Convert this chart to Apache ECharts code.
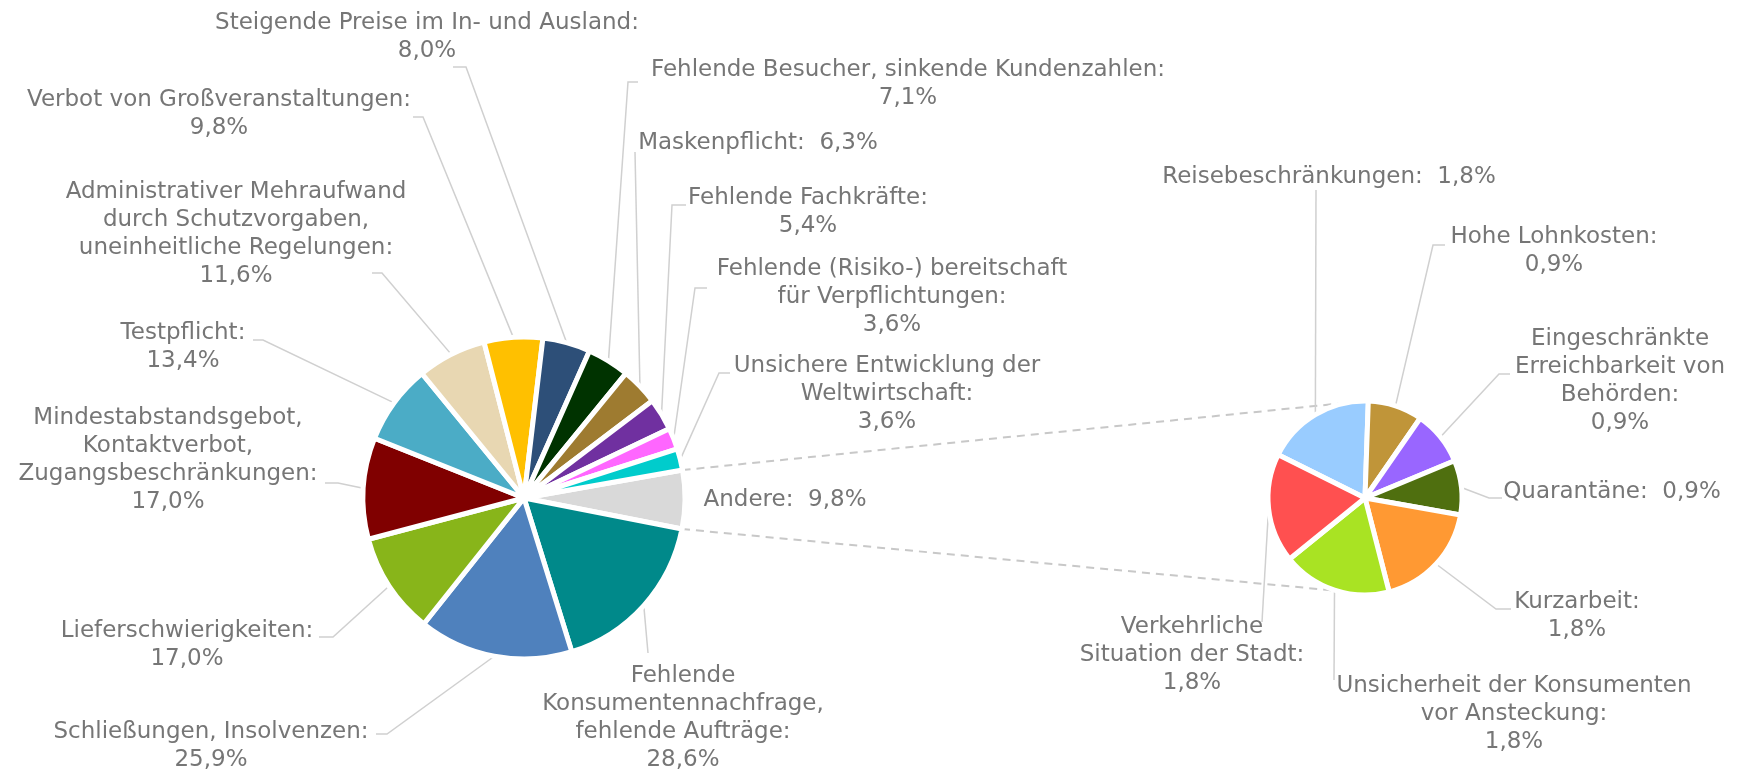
<!DOCTYPE html>
<html>
<head>
<meta charset="utf-8">
<script src="https://cdn.jsdelivr.net/npm/echarts@6/dist/echarts.min.js"></script>
<style>
  html, body { margin: 0; padding: 0; background: #fff; }
  #chart { width: 1740px; height: 771px; }
</style>
</head>
<body>
<div id="chart"></div>
<script>
// Hauptkreis (Reihenfolge im Uhrzeigersinn ab "Andere")
const mainNames = [
  'Andere',
  'Fehlende\nKonsumentennachfrage,\nfehlende Aufträge',
  'Schließungen, Insolvenzen',
  'Lieferschwierigkeiten',
  'Mindestabstandsgebot,\nKontaktverbot,\nZugangsbeschränkungen',
  'Testpflicht',
  'Administrativer Mehraufwand\ndurch Schutzvorgaben,\nuneinheitliche Regelungen',
  'Verbot von Großveranstaltungen',
  'Steigende Preise im In- und Ausland',
  'Fehlende Besucher, sinkende Kundenzahlen',
  'Maskenpflicht',
  'Fehlende Fachkräfte',
  'Fehlende (Risiko-) bereitschaft\nfür Verpflichtungen',
  'Unsichere Entwicklung der\nWeltwirtschaft'
];
const mainValues = [9.8, 28.6, 25.9, 17.0, 17.0, 13.4, 11.6, 9.8, 8.0, 7.1, 6.3, 5.4, 3.6, 3.6];
const mainColors = ['#d9d9d9', '#00898a', '#4f81bd', '#88b51a', '#800000', '#4bacc6', '#e8d7b2',
  '#ffc000', '#2d4f78', '#003300', '#9e7b30', '#7030a0', '#ff66ff', '#00cccc'];
const mainInline = [0, 10]; // Wert in derselben Zeile

// Zweiter Kreis ("Andere" aufgeschlüsselt)
const otherNames = [
  'Reisebeschränkungen',
  'Hohe Lohnkosten',
  'Eingeschränkte\nErreichbarkeit von\nBehörden',
  'Quarantäne',
  'Kurzarbeit',
  'Unsicherheit der Konsumenten\nvor Ansteckung',
  'Verkehrliche\nSituation der Stadt'
];
const otherValues = [1.8, 0.9, 0.9, 0.9, 1.8, 1.8, 1.8];
const otherColors = ['#99ccff', '#c09539', '#9966ff', '#4f6f0f', '#ff9933', '#a9e323', '#ff5050'];
const otherInline = [0, 3];

// Beschriftungspositionen: [x, y, Knick x, Knick y, Ende x, Ende y]
const mainLabelPos = [
  [785, 500], [683, 718, 648, 653, 648, 653], [211, 746, 387, 734, 376, 734],
  [187, 645, 333, 637, 319, 637], [168, 460, 338, 483, 325, 483], [183, 347, 263, 340, 253, 340],
  [236, 234, 382, 273, 372, 273], [219, 114, 423, 117, 413, 117], [427, 37, 466, 67, 453, 67],
  [908, 84, 628, 82, 638, 82], [758, 143, 635, 152, 635, 152], [808, 212, 672, 205, 686, 205],
  [892, 297, 695, 288, 707, 288], [887, 394, 719, 373, 730, 373]
];
const otherLabelPos = [
  [1329, 177, 1316, 190, 1316, 190], [1554, 251, 1433, 245, 1445, 245],
  [1620, 381, 1499, 374, 1510, 374], [1612, 492, 1489, 498, 1502, 498],
  [1577, 616, 1496, 609, 1511, 609], [1514, 714, 1334, 680, 1334, 680],
  [1192, 655, 1262, 622, 1262, 622]
];

const mainCenter = [524, 498], mainRadius = 161, mainStart = 10;
const otherCenter = [1365, 498], otherRadius = 97, otherStart = 153.5;

const textColor = '#767676';
const fmt = v => v.toFixed(1).replace('.', ',') + '%';

function buildData(names, values, colors) {
  return names.map((n, i) => ({ name: n, value: values[i], itemStyle: { color: colors[i] } }));
}

function makeLabelLayout(posList) {
  return function (params) {
    const p = posList[params.dataIndex];
    const res = { x: p[0], y: p[1], align: 'center', verticalAlign: 'middle' };
    if (p.length > 2 && params.labelLinePoints) {
      const start = params.labelLinePoints[0];
      res.labelLinePoints = [start, [p[2], p[3]], [p[4], p[5]]];
    }
    return res;
  };
}

function pieSeries(names, values, colors, inline, center, radius, start, posList) {
  const data = buildData(names, values, colors);
  if (posList[0].length === 2) data[0].labelLine = { show: false };
  return {
    type: 'pie',
    center: center,
    radius: radius,
    startAngle: start,
    clockwise: true,
    avoidLabelOverlap: false,
    animation: false,
    itemStyle: { borderColor: '#fff', borderWidth: 5 },
    label: {
      show: true,
      position: 'outside',
      color: textColor,
      fontFamily: 'DejaVu Sans',
      fontSize: 23,
      lineHeight: 28,
      align: 'center',
      overflow: 'none',
      formatter: p => p.name + ':' + (inline.includes(p.dataIndex) ? '  ' : '\n') + fmt(p.value)
    },
    labelLine: {
      show: true,
      length: 10,
      length2: 10,
      lineStyle: { color: '#d0d0d0', width: 1.5 }
    },
    labelLayout: makeLabelLayout(posList),
    emphasis: { disabled: true },
    data: data
  };
}

// Verbindungslinien zwischen beiden Kreisen
const mainSum = mainValues.reduce((a, b) => a + b, 0);
const andereEnd = mainStart - mainValues[0] / mainSum * 360;
function polar(c, r, deg) {
  const a = deg * Math.PI / 180;
  return [c[0] + r * Math.cos(a), c[1] - r * Math.sin(a)];
}
const connTop = [polar(mainCenter, mainRadius, mainStart), polar(otherCenter, otherRadius, 101)];
const connBottom = [polar(mainCenter, mainRadius, andereEnd), polar(otherCenter, otherRadius, -107)];
const dashStyle = { stroke: '#c8c8c8', lineWidth: 2, lineDash: [8, 6] };

const chart = echarts.init(document.getElementById('chart'));
chart.setOption({
  backgroundColor: '#fff',
  animation: false,
  graphic: [
    { type: 'line', z: -1, shape: { x1: connTop[0][0], y1: connTop[0][1], x2: connTop[1][0], y2: connTop[1][1] }, style: dashStyle },
    { type: 'line', z: -1, shape: { x1: connBottom[0][0], y1: connBottom[0][1], x2: connBottom[1][0], y2: connBottom[1][1] }, style: dashStyle }
  ],
  series: [
    pieSeries(mainNames, mainValues, mainColors, mainInline, mainCenter, mainRadius, mainStart, mainLabelPos),
    pieSeries(otherNames, otherValues, otherColors, otherInline, otherCenter, otherRadius, otherStart, otherLabelPos)
  ]
});
</script>
</body>
</html>
